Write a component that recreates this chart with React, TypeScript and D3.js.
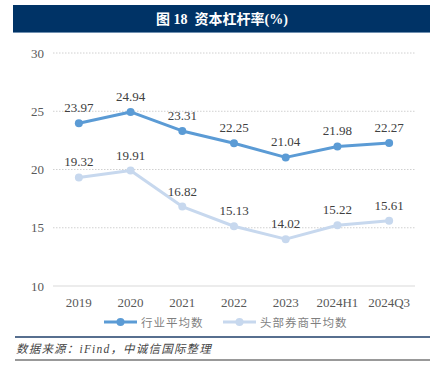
import React from "react";
import * as d3 from "d3";

const categories = ["2019", "2020", "2021", "2022", "2023", "2024H1", "2024Q3"];
const industryAvg = [23.97, 24.94, 23.31, 22.25, 21.04, 21.98, 22.27];
const topBrokerAvg = [19.32, 19.91, 16.82, 15.13, 14.02, 15.22, 15.61];
const yTicks = [10, 15, 20, 25, 30];
const seriesNames = ["行业平均数", "头部券商平均数"];
const colors = ["#5B9BD5", "#C7D8EE"];

export default function App() {
  const W = 430, H = 378;
  const x = d3.scaleBand<string>().domain(categories).range([53, 415]);
  const y = d3.scaleLinear().domain([10, 30]).range([286, 53]);
  const line = d3.line<number>().x((_, i) => (x(categories[i]) as number) + x.bandwidth() / 2).y(d => y(d));
  const serif = "'Times New Roman', 'Liberation Serif', serif";
  const series = [industryAvg, topBrokerAvg];
  return (
    <svg width={W} height={H} style={{ position: "absolute", left: 0, top: 0, background: "#fff" }}>
      <rect x={13} y={5} width={417} height={28} fill="#003366" />
      <line x1={13} x2={430} y1={32.5} y2={32.5} stroke="#6f8fb0" strokeWidth={1} />
      <text x={222} y={24} textAnchor="middle" fill="#fff" fontFamily={serif + ", 'Noto Sans CJK SC'"} fontWeight="bold" fontSize={14} style={{ whiteSpace: "pre" }}>
        {"图 18  资本杠杆率(%)"}
      </text>
      {yTicks.map(t => (
        <g key={t}>
          <line x1={53} x2={415} y1={y(t)} y2={y(t)} stroke={t === 10 ? "#d9d9d9" : "#d0d0d0"} strokeDasharray={t === 10 ? undefined : "1.5,1.5"} strokeWidth={1} />
          <text x={44} y={y(t) + 4.5} textAnchor="end" fill="#595959" fontFamily={serif} fontSize={13}>{t}</text>
        </g>
      ))}
      {categories.map(c => (
        <text key={c} x={(x(c) as number) + x.bandwidth() / 2} y={307} textAnchor="middle" fill="#595959" fontFamily={serif} fontSize={13}>{c}</text>
      ))}
      {series.map((s, si) => (
        <g key={si}>
          <path d={line(s) || ""} fill="none" stroke={colors[si]} strokeWidth={3} strokeLinejoin="round" />
          {s.map((v, i) => {
            const cx = (x(categories[i]) as number) + x.bandwidth() / 2;
            return (
              <g key={i}>
                <circle cx={cx} cy={y(v)} r={4} fill={colors[si]} />
                <text x={cx} y={y(v) - 11} textAnchor="middle" fill="#404040" fontFamily={serif} fontSize={13}>{v.toFixed(2)}</text>
              </g>
            );
          })}
        </g>
      ))}
      {[0, 1].map(i => {
        const lx = i === 0 ? 104 : 223;
        return (
          <g key={i}>
            <line x1={lx} x2={lx + 33} y1={322} y2={322} stroke={colors[i]} strokeWidth={3} />
            <circle cx={lx + 16.5} cy={322} r={4} fill={colors[i]} />
            <text x={lx + 37} y={326.5} fill="#7f7f7f" fontFamily="'Noto Sans CJK SC', sans-serif" fontSize={11.5} letterSpacing={1}>{seriesNames[i]}</text>
          </g>
        );
      })}
      <line x1={15} x2={430} y1={337} y2={337} stroke="#1f3f6a" strokeWidth={1.5} />
      <text x={16} y={352.5} fill="#444" fontFamily={serif + ", 'Noto Sans CJK SC'"} fontStyle="italic" fontSize={11.5} letterSpacing={1.2}>
        数据来源：iFind，中诚信国际整理
      </text>
      <line x1={15} x2={430} y1={360} y2={360} stroke="#999" strokeWidth={2} />
    </svg>
  );
}
